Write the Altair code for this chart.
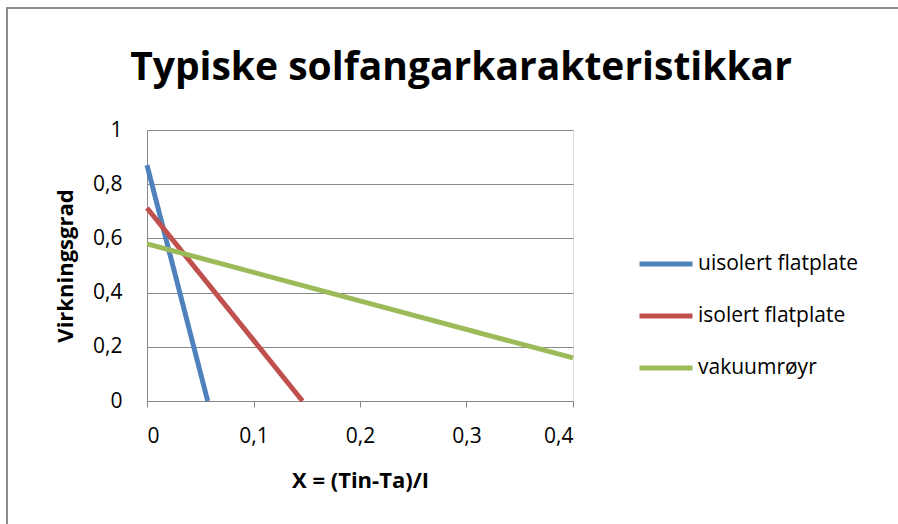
import altair as alt
import pandas as pd

# Collector efficiency lines: start and end points of each characteristic
series = ["uisolert flatplate", "isolert flatplate", "vakuumrøyr"]
x_start = [0.0, 0.0, 0.0]
y_start = [0.87, 0.712, 0.58]
x_end = [0.057, 0.146, 0.4]
y_end = [0.0, 0.0, 0.159]
colors = ["#4F81BD", "#C0504D", "#9BBB59"]

x_ticks = [0, 0.1, 0.2, 0.3, 0.4]
y_ticks = [0, 0.2, 0.4, 0.6, 0.8, 1]

title_text = "Typiske solfangarkarakteristikkar"

rows = []
for i, s in enumerate(series):
    rows.append({"serie": s, "x": x_start[i], "y": y_start[i], "order": 0})
    rows.append({"serie": s, "x": x_end[i], "y": y_end[i], "order": 1})
df = pd.DataFrame(rows)

FONT = "Open Sans"
GRID = "#878787"
FRAME = "#8c8c8c"
comma = "replace(format(datum.value, '~g'), '.', ',')"

lines = alt.Chart(df).mark_line(strokeWidth=5, strokeCap="butt").encode(
    x=alt.X("x:Q",
            scale=alt.Scale(domain=[0, 0.4], nice=False),
            axis=alt.Axis(values=x_ticks, labelExpr=comma, grid=False,
                          title="X = (Tin-Ta)/I", titleFontWeight="bold",
                          titleFontSize=22, titlePadding=24,
                          labelFontSize=21, labelPadding=18,
                          tickSize=6, tickColor=GRID, domainColor=GRID)),
    y=alt.Y("y:Q",
            scale=alt.Scale(domain=[0, 1], nice=False),
            axis=alt.Axis(values=y_ticks, labelExpr=comma, grid=True,
                          gridColor=GRID, ticks=False,
                          title="Virkningsgrad", titleFontWeight="bold",
                          titleFontSize=22, titlePadding=15,
                          labelFontSize=21, labelPadding=25,
                          domainColor=GRID)),
    color=alt.Color("serie:N",
                    scale=alt.Scale(domain=series, range=colors),
                    sort=series,
                    legend=alt.Legend(title=None, orient="none",
                                      legendX=490, legendY=105,
                                      symbolType="stroke", symbolSize=2809,
                                      symbolStrokeWidth=5,
                                      labelFontSize=21, labelOffset=3,
                                      labelLimit=400,
                                      rowPadding=13, labelColor="#000")),
    order="order:Q",
)

# Outer chart frame (top and left edges)
frame_top = alt.Chart(pd.DataFrame({"a": [0]})).mark_rule(
    stroke=FRAME, strokeWidth=2
).encode(x=alt.value(-140), x2=alt.value(760), y=alt.value(-122))
frame_left = alt.Chart(pd.DataFrame({"a": [0]})).mark_rule(
    stroke=FRAME, strokeWidth=2
).encode(x=alt.value(-140), y=alt.value(-123), y2=alt.value(400))

# Chart heading
heading = alt.Chart(pd.DataFrame({"t": [title_text]})).mark_text(
    font=FONT, fontSize=39, fontWeight="bold", color="#000",
    align="center", baseline="alphabetic"
).encode(text="t:N", x=alt.value(314), y=alt.value(-50))

chart = alt.layer(frame_top, frame_left, lines, heading).properties(
    width=426,
    height=271,
    autosize=alt.AutoSizeParams(type="none"),
    padding={"left": 147, "top": 130, "right": 325, "bottom": 123},
).configure_view(stroke=None).configure(font=FONT).configure_axis(
    labelColor="#000", titleColor="#000", labelFont=FONT, titleFont=FONT
).configure_legend(labelFont=FONT)

chart.save("out.html", embed_options={"renderer": "svg", "actions": False})
